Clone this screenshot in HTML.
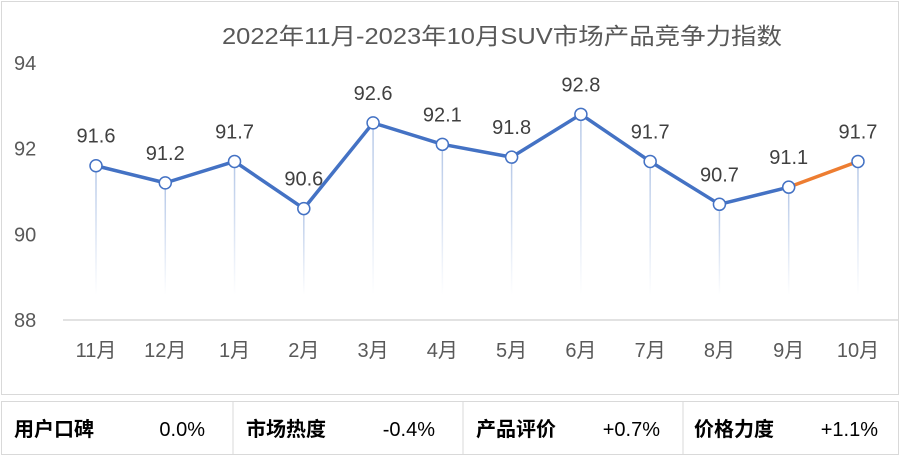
<!DOCTYPE html>
<html><head><meta charset="utf-8"><style>
body{margin:0;background:#fff;width:902px;height:456px;overflow:hidden;font-family:"Liberation Sans","Noto Sans CJK SC",sans-serif}
svg{position:absolute;left:0;top:0}
</style></head><body>
<svg width="902" height="456">
<defs><linearGradient id="dl" x1="0" y1="0" x2="0" y2="1"><stop offset="0" stop-color="#b4c7e7"/><stop offset="1" stop-color="#b4c7e7" stop-opacity="0"/></linearGradient></defs>
<rect x="1.5" y="1.5" width="897" height="393" fill="#fff" stroke="#d9d9d9"/>
<text x="222" y="44" font-size="23" fill="#595959" textLength="560" lengthAdjust="spacingAndGlyphs">2022年11月-2023年10月SUV市场产品竞争力指数</text>
<g id="plot"></g>
<rect x="1.5" y="401.5" width="897" height="53" fill="#fff" stroke="#d9d9d9"/>
<g font-size="20" fill="#000" font-weight="bold">
<line x1="233" y1="402" x2="233" y2="454" stroke="#d9d9d9"/>
<line x1="463" y1="402" x2="463" y2="454" stroke="#d9d9d9"/>
<line x1="683" y1="402" x2="683" y2="454" stroke="#d9d9d9"/>
<text x="14" y="436">用户口碑</text>
<text x="205" y="436" text-anchor="end" font-weight="normal">0.0%</text>
<text x="246" y="436">市场热度</text>
<text x="435" y="436" text-anchor="end" font-weight="normal">-0.4%</text>
<text x="476" y="436">产品评价</text>
<text x="660" y="436" text-anchor="end" font-weight="normal">+0.7%</text>
<text x="694" y="436">价格力度</text>
<text x="878" y="436" text-anchor="end" font-weight="normal">+1.1%</text>
</g>
</svg>
<script>
const categories=["11月","12月","1月","2月","3月","4月","5月","6月","7月","8月","9月","10月"];
const values=[91.6,91.2,91.7,90.6,92.6,92.1,91.8,92.8,91.7,90.7,91.1,91.7];
const yTicks=[88,90,92,94];
const NS="http://www.w3.org/2000/svg";
const g=document.getElementById('plot');
const x=i=>96+i*69.27;
const y=v=>320-(v-88)*42.85;
function mk(t,a,p){const e=document.createElementNS(NS,t);for(const k in a)e.setAttribute(k,a[k]);(p||g).appendChild(e);return e;}
yTicks.forEach(t=>{
 const tx=mk('text',{x:14,y:y(t)+7,'font-size':20,fill:'#595959'});tx.textContent=t;
 
 
});
const gl=mk('line',{x1:63,x2:898,y1:y(88),y2:y(88),stroke:'#d9d9d9','stroke-width':1.5});


categories.forEach((c,i)=>{
 const tx=mk('text',{x:x(i),y:357,'text-anchor':'middle','font-size':20,fill:'#595959'});tx.textContent=c;
 
 
 const dl=mk('rect',{x:x(i)-0.75,y:y(values[i]),width:1.5,height:295-y(values[i]),fill:'url(#dl)'});
 
 
});
const pts=values.slice(0,11).map((v,i)=>x(i)+','+y(v)).join(' ');
const pl=mk('polyline',{points:pts,fill:'none',stroke:'#4472c4','stroke-width':3.5,'stroke-linejoin':'round'});


const seg=mk('line',{x1:x(10),y1:y(values[10]),x2:x(11),y2:y(values[11]),stroke:'#ed7d31','stroke-width':3.5});


values.forEach((v,i)=>{
 const c=mk('circle',{cx:x(i),cy:y(v),r:6,fill:'#fff',stroke:'#4472c4','stroke-width':1.5});
 
 
 const t=mk('text',{x:x(i),y:y(v)-23,'text-anchor':'middle','font-size':20,fill:'#404040'});t.textContent=v.toFixed(1);
 
 
});
</script>
</body></html>
